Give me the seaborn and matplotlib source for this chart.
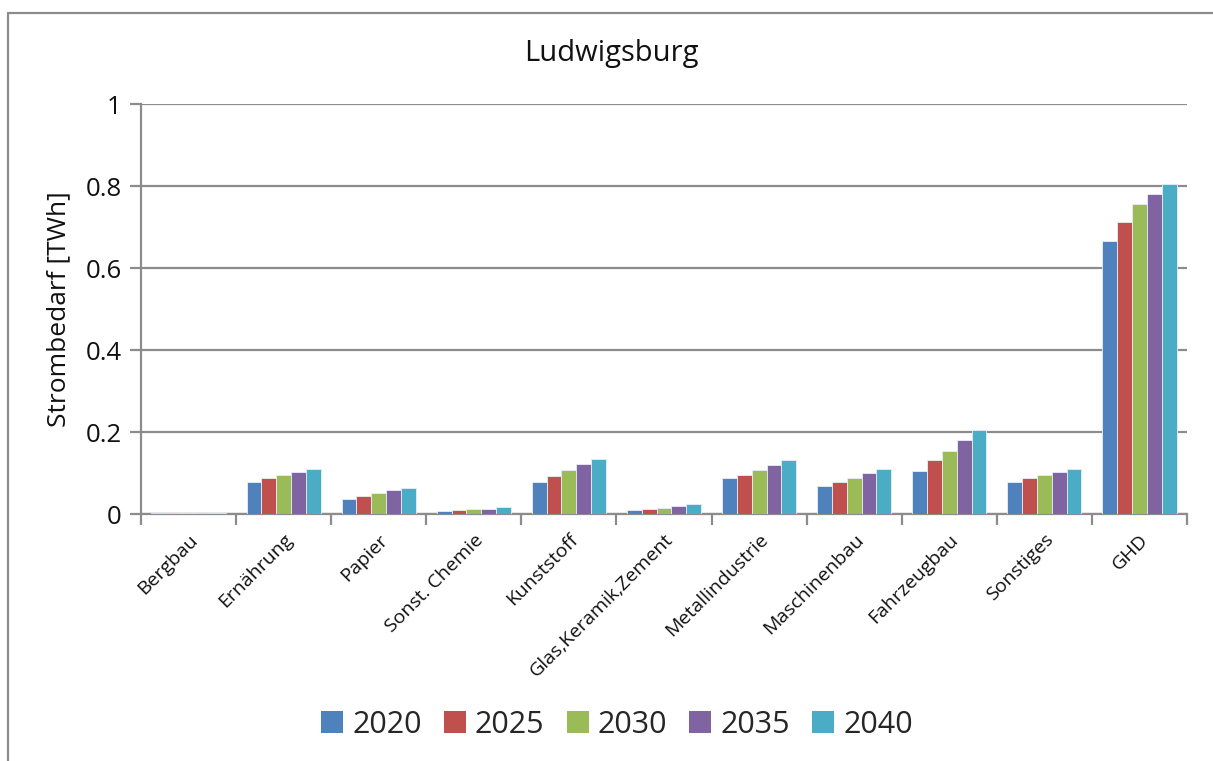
import matplotlib
matplotlib.use("Agg")
import matplotlib.pyplot as plt
from matplotlib.patches import Patch
from matplotlib.lines import Line2D
import seaborn as sns
import pandas as pd

# Sectors (x categories)
sectors = ["Bergbau", "Ernährung", "Papier", "Sonst. Chemie", "Kunststoff",
           "Glas,Keramik,Zement", "Metallindustrie", "Maschinenbau",
           "Fahrzeugbau", "Sonstiges", "GHD"]

years = ["2020", "2025", "2030", "2035", "2040"]

# Electricity demand per sector in TWh
v2020 = [0.002, 0.079, 0.036, 0.007, 0.077, 0.010, 0.088, 0.068, 0.106, 0.078, 0.667]
v2025 = [0.002, 0.087, 0.044, 0.009, 0.092, 0.011, 0.096, 0.078, 0.132, 0.087, 0.711]
v2030 = [0.002, 0.095, 0.051, 0.011, 0.107, 0.014, 0.107, 0.087, 0.154, 0.096, 0.755]
v2035 = [0.003, 0.102, 0.058, 0.013, 0.121, 0.020, 0.120, 0.100, 0.181, 0.103, 0.780]
v2040 = [0.003, 0.110, 0.064, 0.016, 0.135, 0.025, 0.131, 0.109, 0.206, 0.109, 0.806]

colors = ["#4F81BD", "#C0504D", "#9BBB59", "#8064A2", "#4BACC6"]
yticks = [0, 0.2, 0.4, 0.6, 0.8, 1.0]
ytick_labels = ["0", "0.2", "0.4", "0.6", "0.8", "1"]

rows = []
for yr, vals in zip(years, [v2020, v2025, v2030, v2035, v2040]):
    for s, v in zip(sectors, vals):
        rows.append({"Sektor": s, "Jahr": yr, "Wert": v})
df = pd.DataFrame(rows)

sns.set_theme(style="white")
plt.rcParams["font.family"] = ["Open Sans", "DejaVu Sans"]

fig = plt.figure(figsize=(12.13, 7.61), dpi=100)
ax = fig.add_axes([141 / 1213, 1 - 514 / 761, (1187 - 141) / 1213, (514 - 104) / 761])

grid_c = "#8C8C8C"
sns.barplot(data=df, x="Sektor", y="Wert", hue="Jahr", order=sectors,
            hue_order=years, palette=colors, width=0.78, saturation=1,
            edgecolor="#E8EEF5", linewidth=0.6, ax=ax, legend=False, zorder=3)

ax.set_ylim(0, 1.0)
ax.set_xlim(-0.5, len(sectors) - 0.5)
ax.set_yticks(yticks)
ax.set_yticklabels(ytick_labels, fontsize=18.5, color="#111111")
ax.yaxis.grid(True, color=grid_c, linewidth=1.6, zorder=0)
ax.set_axisbelow(True)

# category labels at centres, tick marks at category boundaries
ax.set_xticks(range(len(sectors)))
ax.set_xticklabels(sectors, rotation=45, ha="right", rotation_mode="anchor",
                   fontsize=14, color="#111111")
ax.tick_params(axis="x", which="major", length=0, pad=12)
ax.set_xticks([i - 0.5 for i in range(len(sectors) + 1)], minor=True)
ax.tick_params(axis="x", which="minor", length=8, width=1.6, color=grid_c,
               direction="out", bottom=True)
ax.tick_params(axis="y", length=8, width=1.6, color=grid_c, direction="out",
               left=True, pad=6)

for side in ["top", "right"]:
    ax.spines[side].set_visible(False)
for side in ["left", "bottom"]:
    ax.spines[side].set_color(grid_c)
    ax.spines[side].set_linewidth(1.6)

ax.set_xlabel("")
ax.set_ylabel("Strombedarf [TWh]", fontsize=19, color="#111111", labelpad=10)

fig.text(611 / 1213, 1 - 53 / 761, "Ludwigsburg", ha="center", va="center",
         fontsize=21, color="#111111")

handles = [Patch(facecolor=c, edgecolor="none") for c in colors]
fig.legend(handles, years, loc="center", bbox_to_anchor=(617 / 1213, 1 - 725 / 761),
           ncol=5, frameon=False, fontsize=22, handlelength=0.72, handleheight=0.72,
           handletextpad=0.3, columnspacing=0.72)

# outer chart frame (left and top edges)
fig.add_artist(Line2D([7.5 / 1213, 7.5 / 1213], [0, 1 - 13 / 761],
                      transform=fig.transFigure, color=grid_c, linewidth=1.6))
fig.add_artist(Line2D([7.5 / 1213, 1], [1 - 13 / 761, 1 - 13 / 761],
                      transform=fig.transFigure, color=grid_c, linewidth=1.6))

fig.savefig("out.png", dpi=100, facecolor="white")
